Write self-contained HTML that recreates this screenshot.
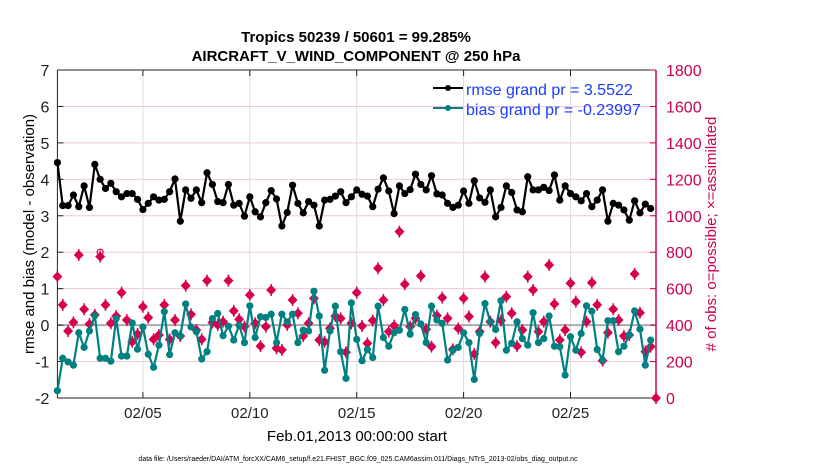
<!DOCTYPE html>
<html><head><meta charset="utf-8"><style>
body{margin:0;background:#fff;}
svg{display:block;font-family:"Liberation Sans",sans-serif;}
</style></head><body>
<svg id="chart" width="830" height="470" viewBox="0 0 830 470">
<text x="356" y="42" text-anchor="middle" font-size="15" font-weight="bold">Tropics 50239 / 50601 = 99.285%</text>
<text x="356" y="61" text-anchor="middle" font-size="15" font-weight="bold">AIRCRAFT_V_WIND_COMPONENT @ 250 hPa</text>
<g id="grid"></g>
<g id="axes"></g>
<g id="series"></g>
<g>
<line x1="433" y1="88" x2="463" y2="88" stroke="#000" stroke-width="2"/>
<circle cx="448" cy="88" r="3" fill="#000"/>
<text x="466" y="95" font-size="16" fill="#1a3cff">rmse grand pr = 3.5522</text>
<line x1="433" y1="108" x2="463" y2="108" stroke="#008080" stroke-width="2"/>
<circle cx="448" cy="108" r="3" fill="#008080"/>
<text x="466" y="115" font-size="16" fill="#1a3cff">bias grand pr = -0.23997</text>
</g>
<text transform="translate(34,234) rotate(-90)" text-anchor="middle" font-size="15">rmse and bias (model - observation)</text>
<text transform="translate(716,234) rotate(-90)" text-anchor="middle" font-size="15" fill="#cc0052"># of obs: o=possible; ×=assimilated</text>
<text x="357" y="441" text-anchor="middle" font-size="15">Feb.01,2013 00:00:00 start</text>
<text x="358" y="461" text-anchor="middle" font-size="7">data file: /Users/raeder/DAI/ATM_forcXX/CAM6_setup/f.e21.FHIST_BGC.f09_025.CAM6assim.011/Diags_NTrS_2013-02/obs_diag_output.nc</text>
</svg>
<script>
const rmse=[4.46,3.28,3.28,3.57,3.25,3.82,3.23,4.41,4.0,3.75,3.89,3.66,3.52,3.61,3.61,3.45,3.17,3.34,3.52,3.43,3.45,3.66,4.01,2.85,3.71,3.48,3.71,3.36,4.18,3.86,3.39,3.36,3.86,3.29,3.34,2.99,3.52,3.11,2.97,
3.36,3.69,3.46,2.72,3.09,3.84,3.34,3.08,3.39,3.29,2.72,3.43,3.45,3.54,3.66,3.36,3.52,3.71,3.59,3.54,3.25,3.73,4.04,3.68,3.06,3.82,3.61,3.72,4.14,3.86,3.71,4.10,3.60,3.57,3.34,3.23,3.29,
3.68,3.34,3.96,3.49,3.37,3.71,2.97,3.23,3.82,3.64,3.16,3.11,4.07,3.71,3.71,3.78,3.69,4.12,3.43,3.82,3.61,3.52,3.41,3.61,3.25,3.43,3.71,2.85,3.34,3.29,3.16,2.88,3.41,3.08,3.32,3.20];
const bias=[-1.80,-0.91,-1.01,-1.10,-0.21,-0.61,-0.16,0.26,-0.91,-0.91,-0.99,0.18,-0.85,-0.85,0.06,-0.66,-0.05,-0.80,-1.16,-0.55,0.37,-0.81,-0.21,-0.30,0.58,-0.05,-0.18,-0.93,-0.73,0.18,0.32,-0.29,-0.03,-0.41,0,-0.48,0.53,-0.34,0.23,
0.21,0.30,-0.48,0.30,0.09,0.30,-0.48,-0.14,-0.16,0.93,0.25,-1.24,-0.16,0.52,-0.73,-1.46,0.61,-0.39,-0.98,-0.67,-0.89,0.52,-0.34,-0.58,-0.21,-0.14,0.43,-0.25,0.29,0.03,-0.48,0.52,0.14,0.05,-0.96,-0.69,-0.61,
-0.21,-0.48,-1.49,-0.23,0.59,0.09,-0.12,0.67,-0.69,-0.50,0.09,-0.37,-0.55,0.34,-0.48,-0.37,0.25,-0.58,-0.59,-1.37,-0.32,-0.69,-0.23,0.53,0.38,-0.67,-0.96,0.12,0.12,-0.73,-0.58,-0.27,0.39,-0.11,-1.10,-0.41];
const nAssim=[666,511,368,415,785,487,406,456,776,511,410,450,578,428,309,351,501,441,322,346,511,322,428,340,617,459,373,322,644,414,401,419,644,478,432,392,565,410,285,
392,593,273,264,401,538,465,340,410,547,318,309,382,450,437,251,410,578,395,300,425,712,538,364,397,913,624,392,437,670,377,282,452,551,437,267,382,
547,447,242,364,666,419,304,425,556,465,285,373,666,593,364,419,730,516,318,373,630,529,251,419,633,511,205,359,487,428,340,346,681,468,254,282,0];
const nPoss=nAssim.map((v,i)=>i===8?800:v);
const xTickLabels=["02/05","02/10","02/15","02/20","02/25"];
const xTickDays=[4,9,14,19,24];
const yLeftTicks=[-2,-1,0,1,2,3,4,5,6,7];
const yRightTicks=[0,200,400,600,800,1000,1200,1400,1600,1800];

const NS="http://www.w3.org/2000/svg";
const X0=57.4,X1=656,Y0=70,Y1=398;
const x=d=>X0+(X1-X0)*d/28;
const yl=v=>Y1-(Y1-Y0)*(v+2)/9;
const yr=v=>Y1-(Y1-Y0)*v/1800;
function mk(tag,attrs,parent,text){const e=document.createElementNS(NS,tag);for(const k in attrs)e.setAttribute(k,attrs[k]);if(text!==undefined)e.textContent=text;parent.appendChild(e);return e;}
const grid=document.getElementById('grid'),axes=document.getElementById('axes'),ser=document.getElementById('series');
mk('rect',{x:X0,y:Y0,width:X1-X0,height:Y1-Y0,fill:'#fff'},grid);
yLeftTicks.forEach(v=>{if(v>-2&&v<7){const l=mk('line',{x1:X0,x2:X1,y1:yl(v),y2:yl(v),stroke:'#f5c6d8','stroke-width':1},grid);

}});
xTickDays.forEach((d,i)=>{const l=mk('line',{x1:x(d),x2:x(d),y1:Y0,y2:Y1,stroke:'#ddd','stroke-width':1},grid);


mk('line',{x1:x(d),x2:x(d),y1:Y1,y2:Y1-6,stroke:'#222'},axes);mk('line',{x1:x(d),x2:x(d),y1:Y0,y2:Y0+6,stroke:'#222'},axes);
const t=mk('text',{x:x(d),y:Y1+20,'text-anchor':'middle','font-size':15,fill:'#222'},axes,xTickLabels[i]);

});
const z=mk('line',{x1:X0,x2:X1,y1:yl(0),y2:yl(0),stroke:'#aaa','stroke-width':2},grid);


mk('line',{x1:X0,x2:X1,y1:Y0,y2:Y0,stroke:'#222'},axes);
mk('line',{x1:X0,x2:X1,y1:Y1,y2:Y1,stroke:'#222'},axes);
mk('line',{x1:X0,x2:X0,y1:Y0,y2:Y1,stroke:'#222'},axes);
mk('line',{x1:X1,x2:X1,y1:Y0,y2:Y1,stroke:'#cc0052','stroke-width':1.5},axes);
yLeftTicks.forEach(v=>{mk('line',{x1:X0,x2:X0+6,y1:yl(v),y2:yl(v),stroke:'#222'},axes);
const t=mk('text',{x:X0-8,y:yl(v)+6,'text-anchor':'end','font-size':16,fill:'#222'},axes,String(v));

});
yRightTicks.forEach(v=>{mk('line',{x1:X1-6,x2:X1,y1:yr(v),y2:yr(v),stroke:'#cc0052'},axes);
const t=mk('text',{x:X1+10,y:yr(v)+6,'font-size':16,fill:'#cc0052'},axes,String(v));

});
// obs counts
nAssim.forEach((v,i)=>{const cx=x(i*0.25),cy=yr(v);
const g=mk('g',{},ser);


mk('circle',{cx:cx,cy:yr(nPoss[i]),r:3,fill:'none',stroke:'#d8004e','stroke-width':1.2},g);
mk('path',{d:`M${cx} ${cy-5}L${cx+5} ${cy}L${cx} ${cy+5}L${cx-5} ${cy}Z`,fill:'#d8004e'},g);
mk('path',{d:`M${cx-4} ${cy}H${cx+4}M${cx} ${cy-6}V${cy+6}`,stroke:'#d8004e','stroke-width':1.5},g);});
function series(arr,color,name){
const pts=arr.map((v,i)=>x(i*0.25)+','+yl(v)).join(' ');
const pl=mk('polyline',{points:pts,fill:'none',stroke:color,'stroke-width':2.2},ser);


arr.forEach((v,i)=>{const c=mk('circle',{cx:x(i*0.25),cy:yl(v),r:3.6,fill:color},ser);

});}
series(bias,'#008080','bias');
series(rmse,'#000','rmse');
</script>
</body></html>
